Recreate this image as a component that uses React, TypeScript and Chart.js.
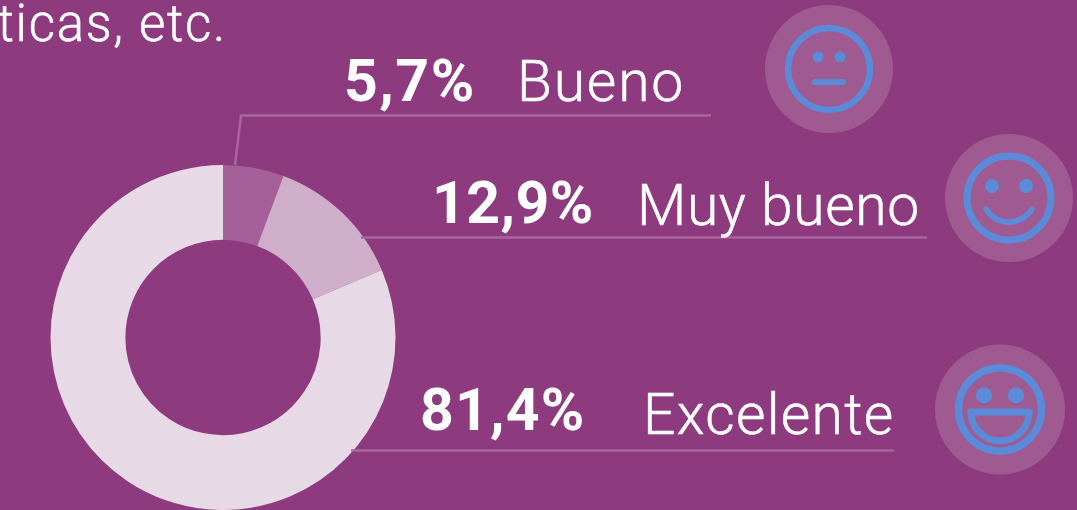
import React, { useEffect, useRef } from "react";
import { Chart, registerables } from "chart.js";

Chart.register(...registerables);

const categories = ["Bueno", "Muy bueno", "Excelente"];
const values = [5.7, 12.9, 81.4];
const percentLabels = ["5,7%", "12,9%", "81,4%"];
const sliceColors = ["#a5609a", "#cfaec9", "#e8d9e6"];
const headingFragment = "ticas, etc.";

const BG = "#8d3a7f";
const LINE = "#a9659f";
const DISC = "#9f5a92";
const BLUE = "#5b8ad9";

type Row = {
  pctX: number; pctY: number; labelX: number; labelY: number; pctGap: string; labelGap: string;
  line: number[][]; face: [number, number]; disc: number; ring: number; kind: number;
};
const rows: Row[] = [
  { pctX: 344, pctY: 101, labelX: 517, labelY: 101, pctGap: "1.5px", labelGap: "1.8px", line: [[235, 165], [241, 115.5], [711, 115.5]], face: [829, 69], disc: 64, ring: 41, kind: 0 },
  { pctX: 432, pctY: 223, labelX: 637, labelY: 225, pctGap: "0.4px", labelGap: "0.6px", line: [[362, 237.5], [926, 237.5]], face: [1009, 198], disc: 64, ring: 42, kind: 1 },
  { pctX: 420, pctY: 430, labelX: 643, labelY: 434, pctGap: "1.2px", labelGap: "1.3px", line: [[352, 450.5], [893, 450.5]], face: [1000, 409.5], disc: 65, ring: 41.5, kind: 2 },
];

function drawFace(ctx: CanvasRenderingContext2D, r: Row) {
  const [x, y] = r.face;
  ctx.fillStyle = DISC;
  ctx.beginPath(); ctx.arc(x, y, r.disc, 0, Math.PI * 2); ctx.fill();
  ctx.strokeStyle = BLUE; ctx.fillStyle = BLUE; ctx.lineCap = "round";
  ctx.lineWidth = r.kind === 2 ? 7.5 : r.kind === 1 ? 7 : 6.5;
  ctx.beginPath(); ctx.arc(x, y, r.ring, 0, Math.PI * 2); ctx.stroke();
  const eyeDx = r.kind === 0 ? 11 : r.kind === 1 ? 17 : 16;
  const eyeY = r.kind === 0 ? y - 12 : r.kind === 1 ? y - 12 : y - 14;
  const eyeR = r.kind === 0 ? 5.5 : r.kind === 1 ? 7 : 8;
  [-1, 1].forEach((s) => { ctx.beginPath(); ctx.arc(x + s * eyeDx, eyeY, eyeR, 0, Math.PI * 2); ctx.fill(); });
  if (r.kind === 0) {
    ctx.lineWidth = 6; ctx.beginPath(); ctx.moveTo(x - 14, y + 13); ctx.lineTo(x + 14, y + 13); ctx.stroke();
  } else if (r.kind === 1) {
    ctx.lineWidth = 5.5; ctx.beginPath(); ctx.arc(x, y - 3, 27, Math.PI * 0.174, Math.PI * 0.826); ctx.stroke();
  } else {
    ctx.lineWidth = 7; ctx.lineJoin = "round"; ctx.beginPath();
    ctx.moveTo(x - 29, y + 2.5); ctx.lineTo(x + 29, y + 2.5); ctx.arc(x, y + 2.5, 29, 0, Math.PI); ctx.closePath(); ctx.stroke();
  }
}

const overlay = {
  id: "overlay",
  afterDraw(chart: Chart) {
    const ctx = chart.ctx as CanvasRenderingContext2D & { letterSpacing: string };
    ctx.save();
    ctx.fillStyle = "#ffffff"; ctx.strokeStyle = "#ffffff"; ctx.textBaseline = "alphabetic"; ctx.textAlign = "left";
    ctx.lineWidth = 0.5;
    ctx.font = '300 51px Roboto'; ctx.letterSpacing = "1.7px";
    ctx.textAlign = "right";
    ctx.fillText(headingFragment, 227, 41);
    ctx.strokeText(headingFragment, 227, 41);
    ctx.textAlign = "left";
    rows.forEach((r, i) => {
      ctx.strokeStyle = LINE; ctx.lineWidth = 2.5; ctx.beginPath();
      r.line.forEach(([x, y], k) => (k ? ctx.lineTo(x, y) : ctx.moveTo(x, y)));
      ctx.stroke();
      ctx.fillStyle = "#ffffff"; ctx.strokeStyle = "#ffffff"; ctx.lineWidth = 0.5;
      ctx.font = 'bold 59px Roboto'; ctx.letterSpacing = r.pctGap;
      ctx.fillText(percentLabels[i], r.pctX, r.pctY);
      ctx.font = '300 57px Roboto'; ctx.letterSpacing = r.labelGap;
      ctx.fillText(categories[i], r.labelX, r.labelY);
      ctx.strokeText(categories[i], r.labelX, r.labelY);
      drawFace(ctx, r);
    });
    ctx.restore();
  },
};

export default function App() {
  const ref = useRef<HTMLCanvasElement>(null);
  useEffect(() => {
    document.body.style.margin = "0";
    document.body.style.overflow = "hidden";
    document.body.style.background = BG;
    const chart = new Chart(ref.current!, {
      type: "doughnut",
      data: {
        labels: categories,
        datasets: [{ data: values, backgroundColor: sliceColors, borderWidth: 0 }],
      },
      options: {
        responsive: false,
        animation: false,
        cutout: "56.6%",
        layout: { padding: { left: 50, right: 681, top: 165, bottom: -1 } },
        plugins: { legend: { display: false }, tooltip: { enabled: false } },
      },
      plugins: [overlay],
    });
    return () => chart.destroy();
  }, []);
  return <canvas ref={ref} width={1077} height={510} style={{ display: "block", background: BG }} />;
}
